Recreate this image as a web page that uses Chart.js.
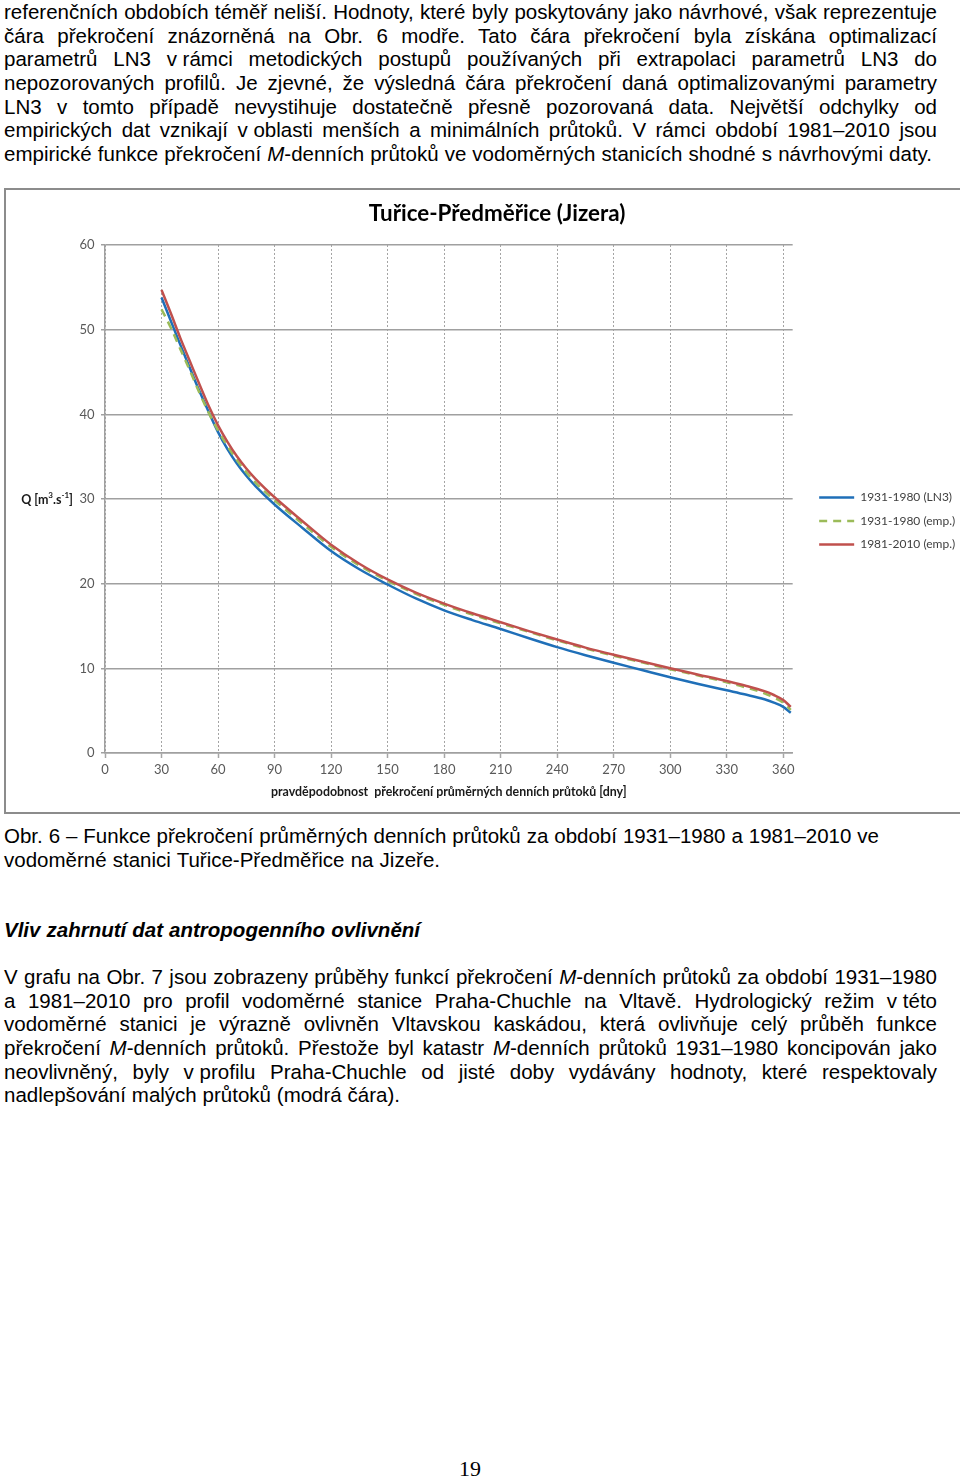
<!DOCTYPE html>
<html lang="cs">
<head>
<meta charset="utf-8">
<title>Tuřice-Předměřice (Jizera)</title>
<script src="https://cdn.jsdelivr.net/npm/chart.js@4.4.1/dist/chart.umd.min.js"></script>
<style>
  html, body { margin: 0; padding: 0; background: #fff; }
  body { width: 960px; height: 1481px; position: relative; overflow: hidden;
         font-family: "Liberation Sans", Arial, sans-serif; font-size: 20.5px; color: #000; }
  .blk { position: absolute; left: 4px; width: 950px; line-height: 23.7px; }
  .ln { white-space: nowrap; height: 23.7px; }
  .t { word-spacing: 0; }
  #box { position: absolute; left: 4px; top: 188px; width: 970px; height: 626px;
         border: 2px solid #8c8c8c; box-sizing: border-box; }
  #wrap { position: absolute; left: 0; top: 0; width: 960px; height: 622px; }
  #pg { position: absolute; left: 0; width: 940px; top: 1456px; text-align: center;
        font-family: "Liberation Serif", "Times New Roman", serif; font-size: 22px; }
</style>
</head>
<body>

<div class="blk" style="top:0px">
  <div class="ln" data-w="933"><span>referenčních obdobích téměř neliší. Hodnoty, které byly poskytovány jako návrhové, však reprezentuje</span></div>
  <div class="ln" data-w="933"><span>čára překročení znázorněná na Obr. 6 modře. Tato čára překročení byla získána optimalizací</span></div>
  <div class="ln" data-w="933"><span>parametrů LN3 <span class="t">v&nbsp;rámci</span> metodických postupů používaných při extrapolaci parametrů LN3 do</span></div>
  <div class="ln" data-w="933"><span>nepozorovaných profilů. Je zjevné, že výsledná čára překročení daná optimalizovanými parametry</span></div>
  <div class="ln" data-w="933"><span>LN3 v tomto případě nevystihuje dostatečně přesně pozorovaná data. Největší odchylky od</span></div>
  <div class="ln" data-w="933"><span>empirických dat vznikají <span class="t">v&nbsp;oblasti</span> menších a minimálních průtoků. V rámci období 1981–2010 jsou</span></div>
  <div class="ln" data-w="928"><span>empirické funkce překročení <i>M</i>-denních průtoků ve vodoměrných stanicích shodné s návrhovými daty.</span></div>
</div>

<div id="box"><div id="wrap"><canvas id="chart"></canvas></div></div>

<div class="blk" style="top:824px">
  <div class="ln" data-w="875"><span>Obr. 6 – Funkce překročení průměrných denních průtoků za období 1931–1980 a 1981–2010 ve</span></div>
  <div class="ln" data-w="436"><span>vodoměrné stanici Tuřice-Předměřice na Jizeře.</span></div>
</div>

<div class="blk" style="top:918px">
  <div class="ln" data-w="416"><span><b><i>Vliv zahrnutí dat antropogenního ovlivnění</i></b></span></div>
</div>

<div class="blk" style="top:965px">
  <div class="ln" data-w="933"><span>V grafu na Obr. 7 jsou zobrazeny průběhy funkcí překročení <i>M</i>-denních průtoků za období 1931–1980</span></div>
  <div class="ln" data-w="933"><span>a 1981–2010 pro profil vodoměrné stanice Praha-Chuchle na Vltavě. Hydrologický režim <span class="t">v&nbsp;této</span></span></div>
  <div class="ln" data-w="933"><span>vodoměrné stanici je výrazně ovlivněn Vltavskou kaskádou, která ovlivňuje celý průběh funkce</span></div>
  <div class="ln" data-w="933"><span>překročení <i>M</i>-denních průtoků. Přestože byl katastr <i>M</i>-denních průtoků 1931–1980 koncipován jako</span></div>
  <div class="ln" data-w="933"><span>neovlivněný, byly <span class="t">v&nbsp;profilu</span> Praha-Chuchle od jisté doby vydávány hodnoty, které respektovaly</span></div>
  <div class="ln" data-w="396"><span>nadlepšování malých průtoků (modrá čára).</span></div>
</div>

<div id="pg">19</div>

<script>
// dny překročení (x) a průtoky Q [m3/s]
var days      = [30, 35, 40, 45, 50, 55, 60, 65, 70, 75, 80, 90, 105, 120, 135, 150, 165, 180, 195, 210, 225, 240, 255, 270, 285, 300, 315, 330, 340, 350, 355, 360, 364];
var ln3_1931  = [53.8, 51.0, 48.2, 45.5, 42.8, 40.3, 37.9, 35.9, 34.2, 32.75, 31.5, 29.35, 26.55, 23.85, 21.7, 19.9, 18.25, 16.85, 15.7, 14.65, 13.55, 12.5, 11.55, 10.65, 9.8, 8.95, 8.15, 7.4, 6.9, 6.35, 5.95, 5.45, 4.75];
var emp_1931  = [52.4, 50.2, 47.7, 45.2, 42.6, 40.2, 38.1, 36.25, 34.6, 33.15, 31.9, 29.85, 27.05, 24.35, 22.15, 20.35, 18.8, 17.5, 16.35, 15.3, 14.3, 13.3, 12.35, 11.5, 10.7, 9.9, 9.15, 8.35, 7.75, 7.05, 6.55, 5.95, 5.1];
var emp_1981  = [54.7, 51.9, 49.0, 46.3, 43.6, 41.0, 38.7, 36.75, 35.05, 33.6, 32.35, 30.2, 27.35, 24.6, 22.35, 20.5, 18.95, 17.65, 16.5, 15.45, 14.4, 13.4, 12.45, 11.6, 10.8, 10.0, 9.25, 8.5, 7.95, 7.3, 6.85, 6.25, 5.45];
var seriesNames = ['1931-1980 (LN3)', '1931-1980 (emp.)', '1981-2010 (emp.)'];
var xTicks = [0, 30, 60, 90, 120, 150, 180, 210, 240, 270, 300, 330, 360];
var yTicks = [0, 10, 20, 30, 40, 50, 60];
var chartTitle = 'Tuřice-Předměřice (Jizera)';
var xTitle = 'pravděpodobnost  překročení průměrných denních průtoků [dny]';

// zarovnani radku odstavcu na sirku jako v predloze
function fitLines() {
  var lines = document.querySelectorAll('.ln[data-w]');
  for (var i = 0; i < lines.length; i++) {
    var span = lines[i].firstElementChild;
    var target = parseFloat(lines[i].getAttribute('data-w'));
    var natural = span.getBoundingClientRect().width;
    var gaps = (span.textContent.match(/ /g) || []).length;
    if (gaps > 0) span.style.wordSpacing = ((target - natural) / gaps) + 'px';
  }
}
fitLines();

function toPoints(values) {
  return days.map(function(d, i) { return {x: d, y: values[i]}; });
}

var chartFont = 'Lato, "Open Sans", sans-serif';

// popisek osy Q [m3.s-1] vodorovne vlevo u hodnoty 30
var yTitlePlugin = {
  id: 'yTitle',
  afterDraw: function(chart) {
    var ctx = chart.ctx;
    var py = chart.scales.y.getPixelForValue(30);
    var parts = [['Q [m', 0], ['3', 1], ['.s', 0], ['-1', 1], [']', 0]];
    var big = 'bold 12.5px ' + chartFont, small = 'bold 8px ' + chartFont;
    ctx.save();
    var total = 0;
    parts.forEach(function(p) { ctx.font = p[1] ? small : big; total += ctx.measureText(p[0]).width; });
    var x = 67 - total;
    ctx.fillStyle = '#1a1a1a';
    ctx.textBaseline = 'middle';
    ctx.textAlign = 'left';
    parts.forEach(function(p) {
      ctx.font = p[1] ? small : big;
      ctx.fillText(p[0], x, p[1] ? py - 4 : py + 1);
      x += ctx.measureText(p[0]).width;
    });
    ctx.restore();
  }
};

var lineCommon = {
  pointRadius: 0,
  pointHitRadius: 0,
  borderWidth: 2.5,
  tension: 0.4,
  cubicInterpolationMode: 'monotone',
  fill: false
};

new Chart(document.getElementById('chart'), {
  type: 'line',
  data: {
    datasets: [
      Object.assign({label: seriesNames[0], data: toPoints(ln3_1931), borderColor: '#1f6fb8', backgroundColor: '#1f6fb8', order: 3}, lineCommon),
      Object.assign({label: seriesNames[1], data: toPoints(emp_1931), borderColor: '#9bbb59', backgroundColor: '#9bbb59', borderDash: [8, 6], order: 2}, lineCommon),
      Object.assign({label: seriesNames[2], data: toPoints(emp_1981), borderColor: '#c0504d', backgroundColor: '#c0504d', order: 1}, lineCommon)
    ]
  },
  options: {
    responsive: true,
    maintainAspectRatio: false,
    animation: false,
    events: [],
    layout: { padding: {left: 25, right: 3, top: 0, bottom: 0} },
    plugins: {
      tooltip: { enabled: false },
      title: {
        display: true,
        text: chartTitle,
        color: '#000',
        font: {family: chartFont, size: 22.4, weight: 'bold'},
        padding: {top: 10.6, bottom: 17.5}
      },
      legend: {
        position: 'right',
        align: 'center',
        title: { display: true, text: '', font: {size: 10}, padding: {top: 14, bottom: 14} },
        labels: {
          usePointStyle: true,
          pointStyle: 'line',
          pointStyleWidth: 35,
          padding: 11.5,
          color: '#404040',
          font: {family: chartFont, size: 12},
          sort: function(a, b) { return a.datasetIndex - b.datasetIndex; },
          generateLabels: function(chart) {
            var items = Chart.defaults.plugins.legend.labels.generateLabels(chart);
            items.forEach(function(it) {
              var ds = chart.data.datasets[it.datasetIndex];
              it.lineWidth = ds.borderWidth;
              it.lineDash = ds.borderDash || [];
              it.strokeStyle = ds.borderColor;
              it.pointStyle = 'line';
            });
            return items;
          }
        }
      }
    },
    scales: {
      x: {
        type: 'linear',
        min: 0,
        max: 365,
        afterBuildTicks: function(s) { s.ticks = xTicks.map(function(v) { return {value: v}; }); },
        afterFit: function(s) { s.height = 59; },
        grid: { color: '#a4a4a4', lineWidth: 1, tickLength: 5, tickColor: '#a6a6a6', tickWidth: 1.5 },
        border: { display: true, color: '#a0a0a0', width: 1.5, dash: [2, 2] },
        ticks: { padding: 4, color: '#595959', font: {family: chartFont, size: 13}, maxRotation: 0, autoSkip: false },
        title: { display: true, text: xTitle, color: '#1a1a1a', font: {family: chartFont, size: 12.4, weight: 'bold'}, padding: {top: 0, bottom: 12.5} }
      },
      y: {
        min: 0,
        max: 60,
        afterBuildTicks: function(s) { s.ticks = yTicks.map(function(v) { return {value: v}; }); },
        afterFit: function(s) { s.width = 74; },
        grid: { color: '#a0a0a0', lineWidth: 1.5, tickLength: 4 },
        border: { color: '#a0a0a0', width: 1.5 },
        ticks: { padding: 6.5, color: '#595959', font: {family: chartFont, size: 13} }
      },
      y2: {
        position: 'right',
        min: 0,
        max: 1,
        afterFit: function(s) { s.width = 15; },
        grid: { display: false, drawTicks: false },
        border: { display: false },
        ticks: { display: false }
      }
    }
  },
  plugins: [yTitlePlugin]
});
</script>
</body>
</html>
